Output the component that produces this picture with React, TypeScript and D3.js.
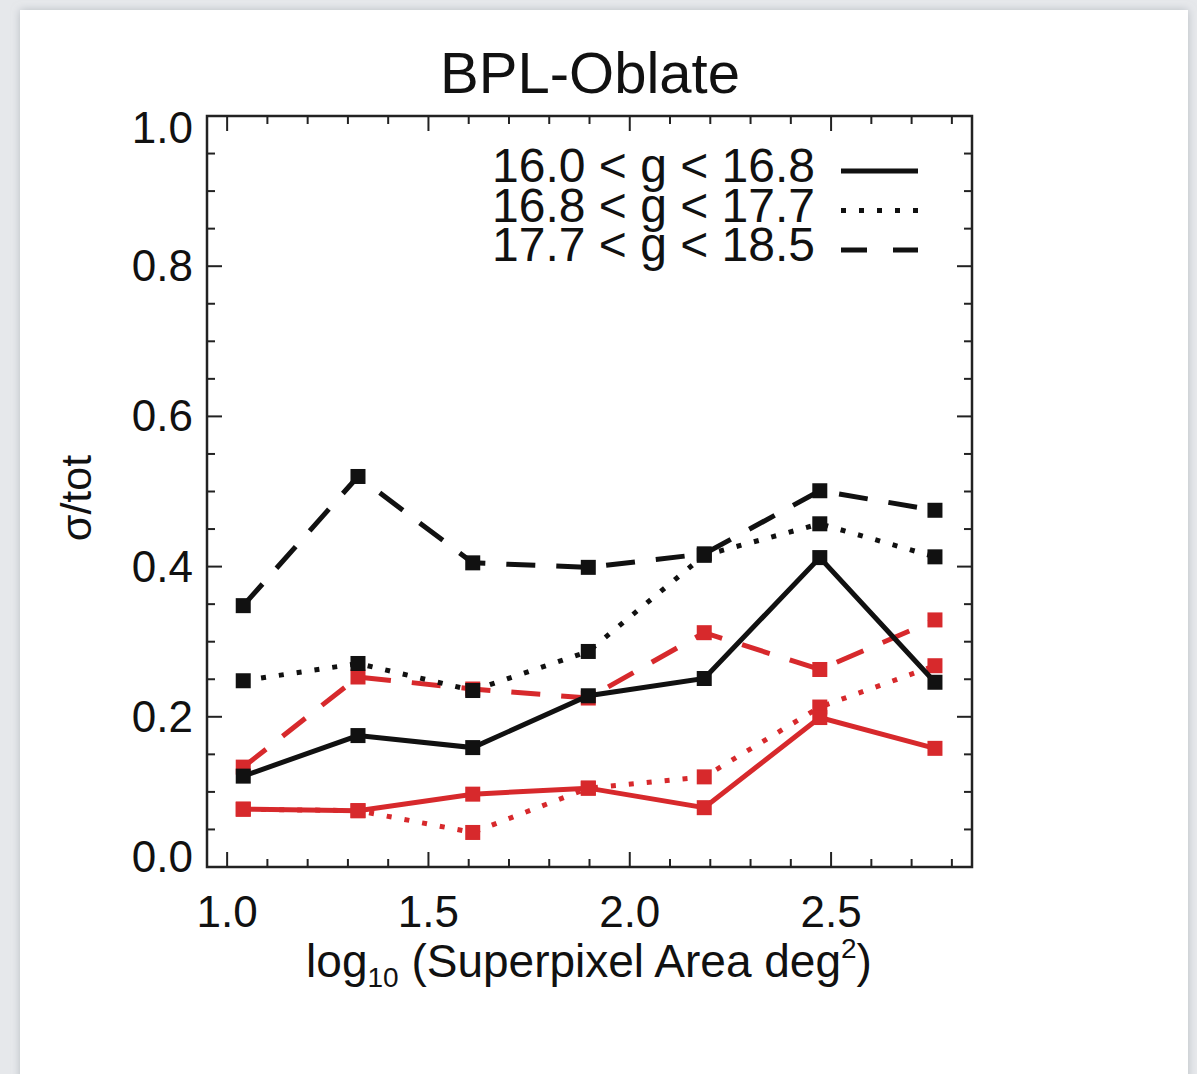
import React from "react";
import * as d3 from "d3";

const title = "BPL-Oblate";
const xValues = [1.04, 1.325, 1.61, 1.897, 2.185, 2.472, 2.758];
const xTicks = [1.0, 1.5, 2.0, 2.5];
const yTicks = [0.0, 0.2, 0.4, 0.6, 0.8, 1.0];

// sample bins: black = one model, red = other
const blackSolid = [0.121, 0.175, 0.159, 0.228, 0.251, 0.412, 0.246];
const blackDotted = [0.248, 0.271, 0.235, 0.287, 0.415, 0.457, 0.413];
const blackDashed = [0.348, 0.52, 0.405, 0.399, 0.417, 0.501, 0.475];
const redSolid = [0.077, 0.075, 0.097, 0.105, 0.079, 0.199, 0.158];
const redDotted = [0.077, 0.075, 0.046, 0.105, 0.12, 0.213, 0.268];
const redDashed = [0.133, 0.253, 0.237, 0.225, 0.312, 0.263, 0.329];

const legendLabels = ["16.0 < g < 16.8", "16.8 < g < 17.7", "17.7 < g < 18.5"];

const RED = "#d7292c";
const BLACK = "#111111";
const SOLID = "none";
const DOTTED = "5,13";
const DASHED = "29,21";

const series = [
  { values: redDashed, color: RED, dash: DASHED },
  { values: redDotted, color: RED, dash: DOTTED },
  { values: redSolid, color: RED, dash: SOLID },
  { values: blackDashed, color: BLACK, dash: DASHED },
  { values: blackDotted, color: BLACK, dash: DOTTED },
  { values: blackSolid, color: BLACK, dash: SOLID },
];

const W = 1197;
const H = 1074;
const plot = { left: 207, right: 972, top: 116, bottom: 867 };
const FONT = "'Liberation Sans', Arial, Helvetica, sans-serif";

export default function App() {
  const x = d3.scaleLinear().domain([0.95, 2.85]).range([plot.left, plot.right]);
  const y = d3.scaleLinear().domain([0, 1]).range([plot.bottom, plot.top]);
  const line = d3
    .line<number>()
    .x((_, i) => x(xValues[i]))
    .y((d) => y(d));

  const xMinor = d3.range(10, 29).map((v) => v / 10);
  const yMinor = d3.range(0, 21).map((v) => v / 20);
  const majorLen = 15;
  const minorLen = 8;
  const sq = 15;

  const legendDashes = [SOLID, DOTTED, "26,26"];
  const legendTop = 182;
  const legendStep = 39.5;

  return (
    <svg
      width={W}
      height={H}
      style={{ position: "absolute", left: 0, top: 0, display: "block" }}
      fontFamily={FONT}
    >
      <defs>
        <filter id="shadow" x="-5%" y="-5%" width="110%" height="110%">
          <feDropShadow dx="0" dy="0" stdDeviation="4" floodColor="#9aa0a8" floodOpacity="0.6" />
        </filter>
        <clipPath id="clip">
          <rect x={plot.left} y={plot.top} width={plot.right - plot.left} height={plot.bottom - plot.top} />
        </clipPath>
      </defs>
      <rect x={0} y={0} width={W} height={H} fill="#e6e8eb" />
      <rect x={20} y={10} width={1168} height={H + 20} fill="#ffffff" filter="url(#shadow)" />

      {/* title */}
      <text x={590} y={93} fontSize={58} textAnchor="middle" fill={BLACK}>
        {title}
      </text>

      {/* ticks */}
      <g stroke="#222" strokeWidth={2}>
        {xMinor.map((v) => {
          const major = Math.abs(v * 2 - Math.round(v * 2)) < 1e-6;
          const len = major ? majorLen : minorLen;
          return (
            <g key={"xt" + v}>
              <line x1={x(v)} x2={x(v)} y1={plot.bottom} y2={plot.bottom - len} />
              <line x1={x(v)} x2={x(v)} y1={plot.top} y2={plot.top + len} />
            </g>
          );
        })}
        {yMinor.map((v) => {
          const major = Math.abs(v * 5 - Math.round(v * 5)) < 1e-6;
          const len = major ? majorLen : minorLen;
          return (
            <g key={"yt" + v}>
              <line x1={plot.left} x2={plot.left + len} y1={y(v)} y2={y(v)} />
              <line x1={plot.right} x2={plot.right - len} y1={y(v)} y2={y(v)} />
            </g>
          );
        })}
      </g>

      {/* frame */}
      <rect
        x={plot.left}
        y={plot.top}
        width={plot.right - plot.left}
        height={plot.bottom - plot.top}
        fill="none"
        stroke="#222"
        strokeWidth={2.5}
      />

      {/* tick labels */}
      <g fontSize={44} fill={BLACK}>
        {xTicks.map((v) => (
          <text key={"xl" + v} x={x(v)} y={927} textAnchor="middle">
            {d3.format(".1f")(v)}
          </text>
        ))}
        {yTicks.map((v) => {
          const adj = v === 1 ? 12 : v === 0 ? -10 : 0;
          return (
            <text key={"yl" + v} x={193} y={y(v) + 15 + adj} textAnchor="end">
              {d3.format(".1f")(v)}
            </text>
          );
        })}
      </g>

      {/* axis titles */}
      <text x={589} y={977} fontSize={46} textAnchor="middle" fill={BLACK}>
        log
        <tspan fontSize={28} dy={10}>10</tspan>
        <tspan dy={-10}> (Superpixel Area deg</tspan>
        <tspan fontSize={28} dy={-19}>2</tspan>
        <tspan dy={19}>)</tspan>
      </text>
      <text
        transform="translate(91,498) rotate(-90)"
        fontSize={43}
        textAnchor="middle"
        fill={BLACK}
      >
        σ/tot
      </text>

      {/* series */}
      <g clipPath="url(#clip)">
        {series.map((s, i) => (
          <g key={"s" + i}>
            <path
              d={line(s.values) || ""}
              fill="none"
              stroke={s.color}
              strokeWidth={5}
              strokeDasharray={s.dash === SOLID ? undefined : s.dash}
              strokeLinejoin="miter"
            />
            {s.values.map((v, j) => (
              <rect
                key={j}
                x={x(xValues[j]) - sq / 2}
                y={y(v) - sq / 2}
                width={sq}
                height={sq}
                fill={s.color}
              />
            ))}
          </g>
        ))}
      </g>

      {/* legend */}
      <text fontSize={48} fill={BLACK} textAnchor="end">
        {legendLabels.map((lab, i) => (
          <tspan key={"lt" + i} x={815} y={legendTop + i * legendStep}>
            {lab}
          </tspan>
        ))}
      </text>
      {legendLabels.map((_, i) => {
        const by = legendTop + i * legendStep;
        return (
          <line
            key={"ll" + i}
            x1={841}
            x2={918}
            y1={by - 11}
            y2={by - 11}
            stroke={BLACK}
            strokeWidth={5}
            strokeDasharray={legendDashes[i] === SOLID ? undefined : legendDashes[i]}
          />
        );
      })}
    </svg>
  );
}
